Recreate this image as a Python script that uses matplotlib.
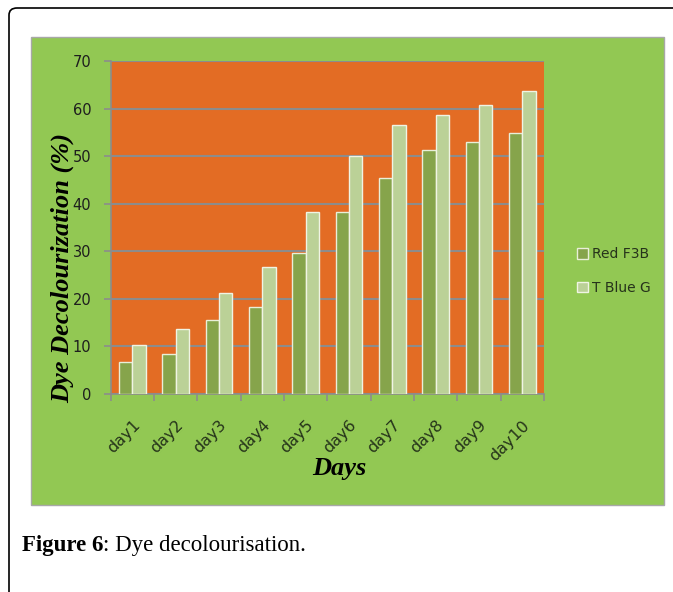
import numpy as np
import matplotlib.pyplot as plt
from matplotlib.patches import FancyBboxPatch, Rectangle

# data
days = ["day1", "day2", "day3", "day4", "day5", "day6", "day7", "day8", "day9", "day10"]
red_f3b = [6.7, 8.5, 15.6, 18.3, 29.7, 38.3, 45.5, 51.3, 52.9, 54.8]
t_blue_g = [10.3, 13.7, 21.3, 26.7, 38.3, 50.0, 56.5, 58.6, 60.8, 63.6]
y_ticks = [0, 10, 20, 30, 40, 50, 60, 70]

W, H = 673, 592
fig = plt.figure(figsize=(W / 100, H / 100), dpi=100)
fig.patch.set_facecolor("white")

def fx(px):
    return px / W

def fy(py):
    return 1 - py / H

# rounded frame around the figure
frame = FancyBboxPatch((fx(9), fy(640)), fx(700), fy(8) - fy(640),
                       boxstyle="round,pad=0,rounding_size=0.012",
                       transform=fig.transFigure, facecolor="none",
                       edgecolor="black", linewidth=1.2, clip_on=False, zorder=-2)
fig.patches.append(frame)

# green chart panel
panel = Rectangle((fx(31), fy(505)), fx(664) - fx(31), fy(37) - fy(505),
                  transform=fig.transFigure, facecolor="#92C853",
                  edgecolor="#a8a8a8", linewidth=1.0, zorder=-1)
fig.patches.append(panel)

ax = fig.add_axes([fx(110.7), fy(394), fx(544) - fx(110.7), fy(61) - fy(394)])
ax.set_facecolor("#E36C24")

x = np.arange(len(days))
bw = 0.31
ax.bar(x - bw / 2, red_f3b, bw, color="#86A44B", edgecolor="#E9EFD9",
       linewidth=1.0, label="Red F3B", zorder=3)
ax.bar(x + bw / 2, t_blue_g, bw, color="#BBD197", edgecolor="#F0F4E4",
       linewidth=1.0, label="T Blue G", zorder=3)

ax.set_xlim(-0.5, len(days) - 0.5)
ax.set_ylim(0, 70)
ax.set_yticks(y_ticks)
ax.set_yticklabels([str(t) for t in y_ticks], fontsize=10.5, color="#1e1e1e")
ax.yaxis.grid(True, color="#8C8C8C", linewidth=1.5, zorder=1)
ax.set_axisbelow(True)
ax.tick_params(axis="y", direction="out", length=5, color="#8C8C8C", width=1.2, pad=9)

# category labels, ticks on the boundaries
ax.set_xticks(x)
ax.set_xticklabels(days, rotation=45, ha="right", rotation_mode="anchor",
                   fontsize=11.5, color="#25331a")
ax.tick_params(axis="x", length=0, pad=17)
ax.set_xticks(np.arange(-0.5, len(days)), minor=True)
ax.tick_params(axis="x", which="minor", direction="out", length=5,
               color="#8C8C8C", width=1.2)

for side in ["top", "right"]:
    ax.spines[side].set_visible(False)
for side in ["left", "bottom"]:
    ax.spines[side].set_color("#8C8C8C")
    ax.spines[side].set_linewidth(1.2)

fig.text(fx(62), fy(268), "Dye Decolourization (%)", family="Liberation Serif",
         fontweight="bold", fontstyle="italic", fontsize=19, rotation=90,
         ha="center", va="center")
fig.text(fx(339), fy(469), "Days", family="Liberation Serif", fontweight="bold",
         fontstyle="italic", fontsize=19, ha="center", va="center")

leg = ax.legend(loc="center left", frameon=False, fontsize=10, handlelength=0.8,
                handleheight=0.8, labelspacing=1.4, handletextpad=0.3, borderaxespad=0)
leg.set_bbox_to_anchor((fx(571), fy(271)), transform=fig.transFigure)
for t in leg.get_texts():
    t.set_color("#26331b")

cap1 = fig.text(fx(22), fy(545), "Figure 6", family="Liberation Serif",
                fontweight="bold", fontsize=16.5, va="center", ha="left")
fig.canvas.draw()
ext = cap1.get_window_extent()
fig.text(ext.x1 / W, fy(545), ": Dye decolourisation.", family="Liberation Serif",
         fontsize=16.5, va="center", ha="left")

fig.savefig("out.png", dpi=100, facecolor="white")
